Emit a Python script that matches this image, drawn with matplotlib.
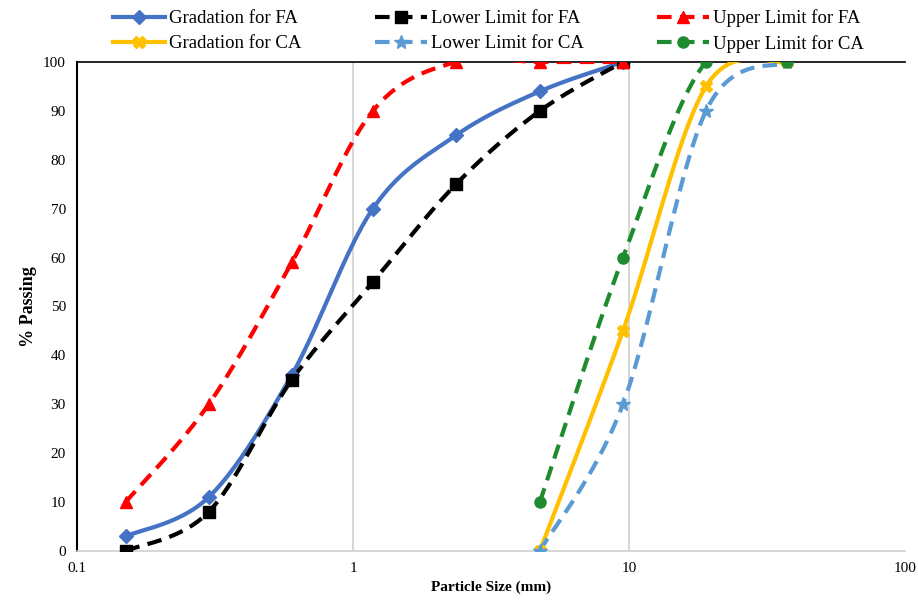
import numpy as np
import matplotlib

matplotlib.use("Agg")
import matplotlib.pyplot as plt

plt.rcParams["font.family"] = ["Liberation Serif", "DejaVu Serif"]

# sieve sizes (mm)
fa_sizes = [0.15, 0.3, 0.6, 1.18, 2.36, 4.75, 9.5]
ca_sizes = [4.75, 9.5, 19.0, 37.5]

fa_gradation = [3, 11, 36, 70, 85, 94, 100]
fa_lower = [0, 8, 35, 55, 75, 90, 100]
fa_upper = [10, 30, 59, 90, 100, 100, 100]

ca_gradation = [0, 45, 95, 100]
ca_lower = [0, 30, 90, 100]
ca_upper = [10, 60, 100, 100]


def smooth(xs, ys, n=40):
    # Excel-like smoothed line: Catmull-Rom through the points in log-x space
    lx = np.log10(np.asarray(xs, float))
    y = np.asarray(ys, float)
    pts = np.column_stack([lx, y])
    ext = np.vstack([pts[0], pts, pts[-1]])
    out = []
    t = np.linspace(0, 1, n)[:, None]
    for i in range(1, len(ext) - 2):
        p0, p1, p2, p3 = ext[i - 1], ext[i], ext[i + 1], ext[i + 2]
        c1 = p1 + (p2 - p0) / 6
        c2 = p2 - (p3 - p1) / 6
        seg = ((1 - t) ** 3) * p1 + 3 * ((1 - t) ** 2) * t * c1 + 3 * (1 - t) * t ** 2 * c2 + t ** 3 * p2
        out.append(seg)
    seg = np.vstack(out)
    return 10 ** seg[:, 0], seg[:, 1]


dash = (0, (3.5, 2))
series = [
    (fa_sizes, fa_gradation, "Gradation for FA", "#4472C4", "-", "D", 7),
    (fa_sizes, fa_lower, "Lower Limit for FA", "black", dash, "s", 8),
    (fa_sizes, fa_upper, "Upper Limit for FA", "#FF0000", dash, "^", 8),
    (ca_sizes, ca_gradation, "Gradation for CA", "#FFC000", "-", "X", 8),
    (ca_sizes, ca_lower, "Lower Limit for CA", "#5B9BD5", dash, "*", 10),
    (ca_sizes, ca_upper, "Upper Limit for CA", "#1E8C2E", dash, "o", 8),
]

fig = plt.figure(figsize=(9.18, 6.05), dpi=100)
ax = fig.add_axes([0.0839, 0.0893, 0.902, 0.8082])

handles = []
for xs, ys, label, color, ls, marker, ms in series:
    sx, sy = smooth(xs, ys)
    ax.plot(sx, sy, color=color, linestyle=ls, linewidth=3, zorder=3)
    ax.plot(xs, ys, linestyle="none", marker=marker, color=color, markersize=ms, zorder=4)
    (h,) = ax.plot([], [], color=color, linestyle=ls, linewidth=3, marker=marker, markersize=ms, label=label)
    handles.append(h)

ax.set_xscale("log")
ax.set_xlim(0.1, 100)
ax.set_ylim(0, 100)
ax.set_yticks(range(0, 101, 10))
ax.set_xticks([0.1, 1, 10, 100])
ax.set_xticklabels(["0.1", "1", "10", "100"])
ax.minorticks_off()
ax.tick_params(length=0, labelsize=11, pad=8)
for gx in [1, 10]:
    ax.axvline(gx, color="#D0D0D0", linewidth=1.2, zorder=1)

ax.spines["right"].set_visible(False)
ax.spines["left"].set_color("black")
ax.spines["left"].set_linewidth(1.5)
ax.spines["top"].set_color("black")
ax.spines["top"].set_linewidth(1.2)
ax.spines["bottom"].set_color("#D0D0D0")
ax.spines["bottom"].set_linewidth(1.2)

ax.set_xlabel("Particle Size (mm)", fontsize=11, fontweight="bold")
ax.set_ylabel("% Passing", fontsize=13, fontweight="bold")

# legend order: row-major with 3 columns
order = [0, 3, 1, 4, 2, 5]
fig.legend(
    [handles[i] for i in order],
    [handles[i].get_label() for i in order],
    ncol=3,
    loc="upper center",
    bbox_to_anchor=(0.532, 1.012),
    frameon=False,
    fontsize=13.5,
    handlelength=2.8,
    handletextpad=0.2,
    columnspacing=3.9,
    labelspacing=0.4,
)

fig.savefig("out.png", dpi=100)
